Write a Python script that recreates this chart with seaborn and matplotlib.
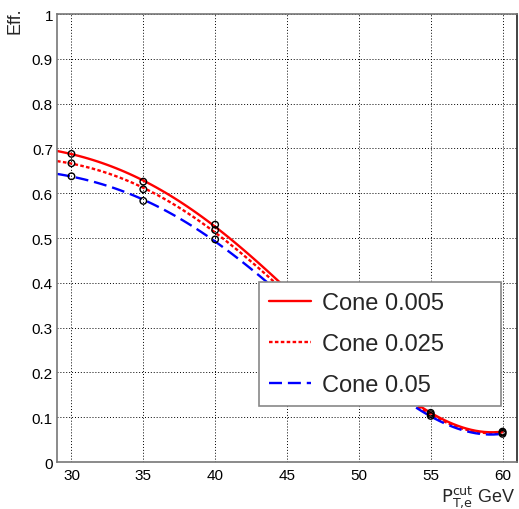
import numpy as np
import pandas as pd
import matplotlib
matplotlib.use("Agg")
import matplotlib.pyplot as plt
import seaborn as sns

# ======================
# values
pt_cut = [30, 35, 40, 45, 50, 55, 60]
eff_cone_0005 = [0.688, 0.626, 0.530, 0.382, 0.236, 0.110, 0.068]
eff_cone_0025 = [0.667, 0.609, 0.518, 0.372, 0.228, 0.107, 0.066]
eff_cone_005 = [0.638, 0.583, 0.497, 0.360, 0.220, 0.103, 0.063]

series = [
    ("Cone 0.005", eff_cone_0005, "#ff0000", "-"),
    ("Cone 0.025", eff_cone_0025, "#ff0000", (0, (1.5, 1.0))),
    ("Cone 0.05", eff_cone_005, "#0000ff", (0, (5.5, 2.5))),
]

df = pd.concat(
    [pd.DataFrame({"pt": pt_cut, "eff": vals, "cone": name}) for name, vals, _, _ in series],
    ignore_index=True,
)

# =========
# plot setup
sns.set_style("white")
plt.rcParams["font.family"] = ["Liberation Sans", "DejaVu Sans"]

fig = plt.figure(figsize=(5.19, 5.10), dpi=100)
ax = fig.add_axes([0.110, 0.092, 0.886, 0.8784])

# fit line spans 29..60
ax.set_xlim(29, 60)
for name, vals, color, ls in series:
    sub = df[df["cone"] == name]
    sns.regplot(
        data=sub, x="pt", y="eff", order=4, ci=None, scatter=False,
        truncate=False, label=name, ax=ax,
        line_kws=dict(color=color, lw=1.7, linestyle=ls),
    )

# data points as open black circles
sns.scatterplot(
    data=df, x="pt", y="eff", marker="o", s=22, facecolors="none",
    edgecolor="black", linewidth=1.0, legend=False, ax=ax, zorder=5,
)

ax.set_xlim(29, 61)
ax.set_ylim(0, 1)

ax.set_xticks(range(30, 61, 5))
ax.set_xticks(range(29, 62), minor=True)
ax.set_yticks(np.arange(0, 1.01, 0.1))
ax.set_yticks(np.arange(0, 1.001, 0.02), minor=True)
ax.set_yticklabels(["0"] + [f"{v:.1f}" for v in np.arange(0.1, 0.95, 0.1)] + ["1"])

ax.tick_params(axis="both", which="both", direction="in", top=False, right=False,
               colors="black", labelsize=11)
ax.tick_params(axis="y", which="major", length=15, width=1, pad=3)
ax.tick_params(axis="y", which="minor", length=7, width=1)
ax.tick_params(axis="x", which="major", length=13, width=1, pad=4)
ax.tick_params(axis="x", which="minor", length=7, width=1)
for t in ax.get_xticklines() + ax.get_yticklines():
    t.set_color("#555555")
for t in ax.xaxis.get_minorticklines() + ax.yaxis.get_minorticklines():
    t.set_color("#555555")

ax.grid(True, which="major", color="black", lw=0.7, linestyle=(0, (1, 2)))

for side in ["left", "bottom", "top"]:
    ax.spines[side].set_color("#777777")
    ax.spines[side].set_linewidth(1.2)
ax.spines["right"].set_color("#222222")
ax.spines["right"].set_linewidth(1.2)

ax.set_xlabel(r"$\mathrm{P}_{\mathrm{T{,}e}}^{\mathrm{cut}}$ GeV", fontsize=13, loc="right")
ax.xaxis.set_label_coords(0.997, -0.048)
ax.set_ylabel("Eff.", fontsize=13, loc="top")
ax.yaxis.set_label_coords(-0.072, 1.016)

leg = ax.legend(
    loc="lower left", bbox_to_anchor=(0.439, 0.125, 0.526, 0.277), mode="expand",
    borderaxespad=0, fontsize=17, frameon=True, fancybox=False, framealpha=1,
    edgecolor="#888888", handlelength=1.8, handletextpad=0.45, labelspacing=0.8,
    borderpad=0.42,
)
leg.get_frame().set_linewidth(1.2)
leg.set_zorder(10)

plt.savefig("out.png", dpi=100)
